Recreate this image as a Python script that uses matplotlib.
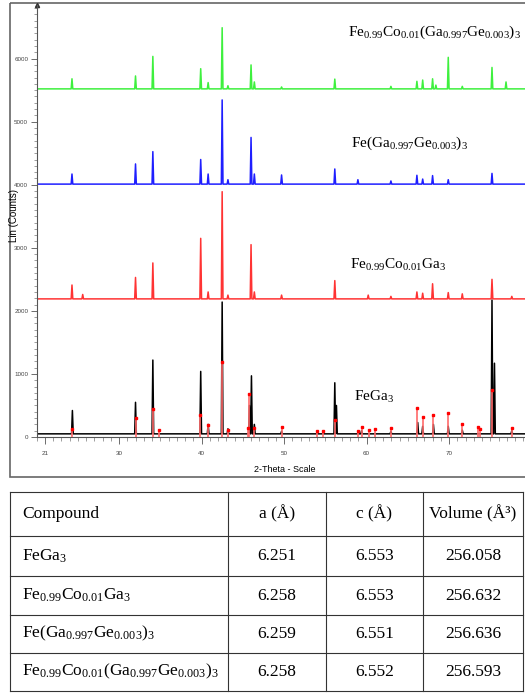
import numpy as np
import matplotlib.pyplot as plt
from matplotlib.patches import Rectangle
from matplotlib.ticker import MultipleLocator

plt.rcParams['mathtext.default'] = 'regular'

# ---- XRD data (2-theta, height above baseline in counts)
fega3_pos = [24.35, 32.0, 34.1, 39.9, 40.8, 42.5, 43.2, 45.8, 46.05, 46.4, 49.7,
             56.15, 56.35, 59.4, 62.95, 66.2, 66.8, 68.1, 69.9, 71.6, 75.2, 75.5, 77.6]
fega3_h = [370, 500, 1170, 990, 150, 2090, 80, 450, 920, 150, 40,
           810, 450, 50, 40, 180, 120, 150, 120, 60, 2120, 1120, 50]
fega3_base = 50

co_pos = [24.3, 25.6, 32.0, 34.1, 39.9, 40.8, 42.5, 43.2, 46.0, 46.4, 49.7,
          56.15, 60.2, 62.95, 66.1, 66.8, 68.0, 69.9, 71.6, 75.2, 77.6]
co_h = [220, 70, 340, 570, 960, 110, 1700, 60, 860, 110, 60,
        290, 60, 40, 110, 90, 240, 100, 80, 310, 40]
co_base = 2190

ge_pos = [24.3, 32.0, 34.1, 39.9, 40.8, 42.5, 43.2, 46.0, 46.4, 49.7,
          56.15, 58.95, 62.95, 66.1, 66.8, 68.0, 69.9, 75.2]
ge_h = [160, 320, 515, 390, 160, 1335, 70, 740, 160, 145,
        240, 70, 50, 140, 80, 135, 70, 170]
ge_base = 4010

coge_pos = [24.3, 32.0, 34.1, 39.9, 40.8, 42.5, 43.2, 46.0, 46.4, 49.7,
            56.15, 62.95, 66.1, 66.8, 68.0, 68.4, 69.9, 71.6, 75.2, 76.9]
coge_h = [160, 205, 515, 320, 100, 970, 50, 380, 110, 30,
          155, 40, 120, 140, 160, 60, 500, 40, 340, 110]
coge_base = 5520

# reference pattern sticks (FeGa3)
ref_pos = [24.3, 32.0, 34.1, 34.9, 39.85, 40.8, 42.47, 43.16, 45.6, 45.8, 46.3,
           49.7, 54.05, 54.7, 56.15, 58.95, 59.4, 60.3, 61.0, 62.95, 66.1, 66.8,
           68.0, 69.9, 71.6, 73.5, 73.8, 75.2, 77.65]
ref_h = [120, 300, 445, 105, 355, 185, 1190, 110, 150, 685, 150,
         160, 100, 100, 270, 90, 160, 110, 120, 150, 455, 310,
         350, 375, 200, 160, 120, 745, 135]

# ---- table data
headers = ['Compound', 'a (Å)', 'c (Å)', 'Volume (Å³)']
compounds = ['FeGa$_3$',
             'Fe$_{0.99}$Co$_{0.01}$Ga$_3$',
             'Fe(Ga$_{0.997}$Ge$_{0.003}$)$_3$',
             'Fe$_{0.99}$Co$_{0.01}$(Ga$_{0.997}$Ge$_{0.003}$)$_3$']
a_vals = ['6.251', '6.258', '6.259', '6.258']
c_vals = ['6.553', '6.553', '6.551', '6.552']
vol_vals = ['256.058', '256.632', '256.636', '256.593']


def profile(pos, h, base, w=0.1):
    x = [20.0]
    y = [base]
    for p, v in zip(pos, h):
        x += [p - w, p, p + w]
        y += [base, base + v, base]
    x.append(80.0)
    y.append(base)
    return x, y


W, H = 525, 693
fig = plt.figure(figsize=(W / 100, H / 100), dpi=100)

# full-figure overlay in pixel coords for frame + table
bg = fig.add_axes([0, 0, 1, 1])
bg.set_xlim(0, W)
bg.set_ylim(H, 0)
bg.axis('off')

ax = fig.add_axes([36.5 / W, 1 - 437 / H, 1 - 36.5 / W, 432 / H])
ax.patch.set_alpha(0)

for pos, h, base, col in [(coge_pos, coge_h, coge_base, '#3ef03e'),
                          (ge_pos, ge_h, ge_base, '#1f1fff'),
                          (co_pos, co_h, co_base, '#ff3333'),
                          (fega3_pos, fega3_h, fega3_base, 'black')]:
    x, y = profile(pos, h, base)
    ax.plot(x, y, color=col, lw=1.1)

ax.vlines(ref_pos, 0, ref_h, color='#ff6a6a', lw=1.2, zorder=3)
ax.plot(ref_pos, ref_h, 's', ms=2.0, color='red', zorder=4)

ax.set_xlim(20, 79.2)
ax.set_ylim(0, 6850)
for s in ['top', 'right']:
    ax.spines[s].set_visible(False)
for s in ['left', 'bottom']:
    ax.spines[s].set_color('#555')
    ax.spines[s].set_linewidth(0.8)

ax.set_xticks([21, 30, 40, 50, 60, 70])
ax.xaxis.set_minor_locator(MultipleLocator(1))
ax.set_yticks(range(0, 7000, 1000))
ax.yaxis.set_minor_locator(MultipleLocator(100))
ax.tick_params(axis='x', which='major', length=5, width=0.6, color='#555',
               labelsize=4.5, labelcolor='#444', pad=5)
ax.tick_params(axis='x', which='minor', length=3, width=0.5, color='#777')
ax.tick_params(axis='y', which='major', length=4, width=0.6, color='#555',
               labelsize=4.5, labelcolor='#444', pad=2)
ax.tick_params(axis='y', which='minor', length=2, width=0.5, color='#777')
for lab in ax.get_xticklabels() + ax.get_yticklabels():
    lab.set_family('Liberation Sans')
ax.plot([0], [1], '^', ms=3, color='#333', transform=ax.transAxes, clip_on=False)

# pattern labels
lab_kw = dict(family='Liberation Serif', fontsize=11, ha='left', va='center')
ax.text(57.8, 6420, compounds[3], **lab_kw)
ax.text(58.1, 4660, compounds[2], **lab_kw)
ax.text(58.0, 2725, compounds[1], **lab_kw)
ax.text(58.5, 640, compounds[0], **lab_kw)

fig.text(14 / W, 1 - 216 / H, 'Lin (Counts)', rotation=90, ha='center', va='center',
         family='Liberation Sans', fontsize=7)
fig.text(285 / W, 1 - 469 / H, '2-Theta - Scale', ha='center', va='center',
         family='Liberation Sans', fontsize=6.5)

# chart frame
bg.add_patch(Rectangle((10, 3), 520, 474, fill=False, ec='#666', lw=1.2))

# table
row_y = [491.7, 536, 576, 615, 652.7, 691]
col_x = [9.5, 228.3, 326, 423, 523]
for yy in row_y:
    bg.plot([col_x[0], col_x[-1]], [yy, yy], color='#333', lw=0.8)
for xx in col_x:
    bg.plot([xx, xx], [row_y[0], row_y[-1]], color='#333', lw=0.8)

tkw = dict(family='Liberation Serif', fontsize=12.5, va='center')
centers = [(col_x[i] + col_x[i + 1]) / 2 for i in range(4)]
bg.text(22, (row_y[0] + row_y[1]) / 2, headers[0], ha='left', **tkw)
for j in range(1, 4):
    bg.text(centers[j], (row_y[0] + row_y[1]) / 2, headers[j], ha='center', **tkw)
for i in range(4):
    yc = (row_y[i + 1] + row_y[i + 2]) / 2
    bg.text(22, yc, compounds[i], ha='left', **tkw)
    bg.text(centers[1], yc, a_vals[i], ha='center', **tkw)
    bg.text(centers[2], yc, c_vals[i], ha='center', **tkw)
    bg.text(centers[3], yc, vol_vals[i], ha='center', **tkw)

fig.savefig('out.png', dpi=100)
